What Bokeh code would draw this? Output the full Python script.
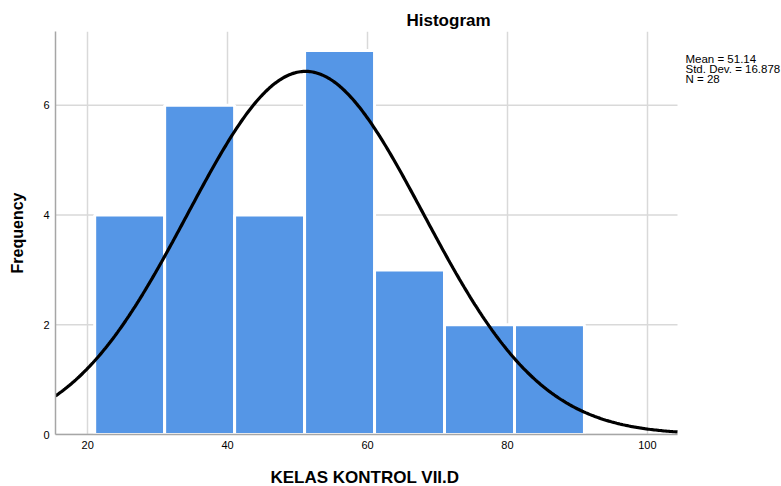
import numpy as np
from bokeh.plotting import figure
from bokeh.models import Range1d, FixedTicker, Label, Title
from bokeh.embed import file_html
from bokeh.resources import INLINE

# Data
bin_edges = [21, 31, 41, 51, 61, 71, 81, 91]
counts = [4, 6, 4, 7, 3, 2, 2]
mean = 51.14
std_dev = 16.878
n_obs = 28
x_ticks = [20, 40, 60, 80, 100]
y_ticks = [0, 2, 4, 6]
stats_lines = ["Mean = 51.14", "Std. Dev. = 16.878", "N = 28"]
x_label = "KELAS KONTROL VII.D"
y_label = "Frequency"

FONT = "Liberation Sans"

# plot area geometry (pixels)
W, H = 781, 486
LEFT, TOP, BOTTOM = 55, 31, 51
X0, X1 = 15.4, 104.3          # visible data extent of the chart area
AREA_W = 622                   # pixel width of the chart area
px_per_unit = AREA_W / (X1 - X0)
x_end = X0 + (W - LEFT) / px_per_unit   # frame extends to the right edge for the stats text
Y1 = 7.345

p = figure(width=W, height=H, output_backend="svg", toolbar_location=None,
           x_range=Range1d(X0, x_end), y_range=Range1d(0, Y1),
           min_border_left=LEFT, min_border_right=0, min_border_top=TOP, min_border_bottom=BOTTOM)

p.title.text = "Histogram"
p.title.align = "left"
p.title.offset = 351
p.title.text_font = FONT
p.title.text_font_size = "17px"
p.title.text_font_style = "bold"
p.title.text_color = "#000000"
p.title.standoff = 4

p.outline_line_color = None
p.background_fill_color = "white"

# grid: vertical lines by Bokeh, horizontal lines limited to the chart area
p.xgrid.ticker = FixedTicker(ticks=x_ticks)
p.xgrid.grid_line_color = "#d9d9d9"
p.xgrid.grid_line_width = 1.5
p.ygrid.visible = False
p.segment(x0=[X0] * len(y_ticks), x1=[X1] * len(y_ticks), y0=y_ticks, y1=y_ticks,
          line_color="#d9d9d9", line_width=1.5)

# bars
p.quad(left=bin_edges[:-1], right=bin_edges[1:], bottom=0, top=counts,
       fill_color="#5596e6", line_color="white", line_width=3)

# fitted normal curve (scaled to bin width)
bw = bin_edges[1] - bin_edges[0]
xs = np.linspace(X0, X1, 400)
ys = n_obs * bw / (std_dev * np.sqrt(2 * np.pi)) * np.exp(-0.5 * ((xs - mean) / std_dev) ** 2)
p.line(xs, ys, line_color="black", line_width=3.2)

# axes
for ax in (p.xaxis[0], p.yaxis[0]):
    ax.major_tick_line_color = None
    ax.minor_tick_line_color = None
    ax.major_tick_out = 0
    ax.major_tick_in = 0
    ax.minor_tick_out = 0
    ax.minor_tick_in = 0
    ax.axis_line_color = "#a6a6a6"
    ax.axis_line_width = 1.5
    ax.major_label_text_font = FONT
    ax.major_label_text_font_size = "11px"
    ax.major_label_text_color = "#000000"
    ax.axis_label_text_font = FONT
    ax.axis_label_text_font_style = "bold"
    ax.axis_label_text_color = "#000000"

p.xaxis.bounds = (X0, X1)
p.xaxis.ticker = FixedTicker(ticks=x_ticks)
p.yaxis.ticker = FixedTicker(ticks=y_ticks)
p.yaxis.axis_label = y_label
p.yaxis.axis_label_text_font_size = "16px"
p.xaxis.major_label_standoff = 6
p.yaxis.major_label_standoff = 6
p.yaxis.axis_label_standoff = 14
# a blank spacer label below the tick labels, to leave room above the x title
p.xaxis.axis_label = "\u00a0"
p.xaxis.axis_label_text_font_size = "2px"
p.xaxis.axis_label_standoff = 9

# x-axis title, centred under the chart area (not the whole frame)
p.add_layout(Title(text=x_label, align="left", offset=215, text_font=FONT,
                   text_font_size="17px", text_font_style="bold", text_color="#000000",
                   standoff=0), "below")

# stats text at the right of the chart area
for i, t in enumerate(stats_lines):
    p.add_layout(Label(x=X1 + 8 / px_per_unit, y=Y1 - (27.5 + 10 * i) / 55.0, text=t,
                       text_font=FONT, text_font_size="11.5px", text_baseline="middle",
                       text_color="#000000"))

open("out.html", "w").write(file_html(p, INLINE))
